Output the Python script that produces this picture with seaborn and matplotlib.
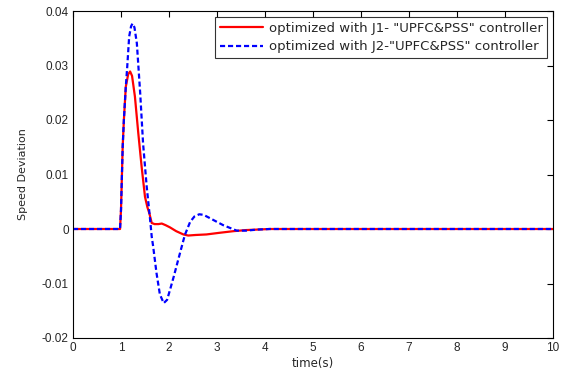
import matplotlib
matplotlib.use("Agg")
import matplotlib.pyplot as plt
import seaborn as sns

t_red = [0, 0.98, 1.0, 1.035, 1.06, 1.10, 1.15, 1.19, 1.23, 1.29, 1.36, 1.43, 1.50, 1.55, 1.59, 1.64, 1.70, 1.78, 1.85, 1.93, 2.02, 2.15, 2.30, 2.40, 2.55, 2.78, 3.05, 3.34, 3.6, 3.85, 4.1, 10]
v_red = [0, 0, 0.0035, 0.0151, 0.020, 0.0261, 0.0284, 0.0289, 0.0281, 0.0243, 0.0176, 0.0114, 0.0059, 0.0040, 0.0029, 0.0011, 0.0009, 0.0009, 0.0010, 0.0007, 0.0003, -0.0004, -0.0010, -0.0012, -0.0011, -0.0010, -0.0007, -0.0004, -0.0002, -0.0001, 0, 0]

t_blue = [0, 0.98, 1.0, 1.035, 1.06, 1.10, 1.13, 1.17, 1.21, 1.24, 1.28, 1.33, 1.40, 1.46, 1.535, 1.60, 1.64, 1.67, 1.74, 1.81, 1.89, 1.96, 2.02, 2.10, 2.19, 2.26, 2.33, 2.44, 2.53, 2.63, 2.72, 2.85, 3.0, 3.13, 3.27, 3.41, 3.6, 3.85, 4.1, 10]
v_blue = [0, 0, 0.0035, 0.0151, 0.020, 0.0261, 0.0298, 0.0353, 0.0372, 0.0377, 0.0370, 0.0341, 0.0249, 0.0157, 0.0078, 0.0023, -0.0014, -0.0032, -0.0081, -0.0120, -0.0136, -0.0130, -0.0112, -0.0087, -0.0057, -0.0034, -0.0011, 0.0013, 0.0023, 0.0027, 0.0026, 0.0020, 0.0013, 0.0007, 0.0002, -0.0003, -0.0003, -0.0001, 0, 0]

label_red = 'optimized with J1- "UPFC&PSS" controller'
label_blue = 'optimized with J2-"UPFC&PSS" controller'

sns.set_style("white")
plt.rcParams['font.family'] = ['Liberation Sans', 'DejaVu Sans']

fig = plt.figure(figsize=(5.65, 3.76), dpi=100)
ax = fig.add_axes([73/565, 1-338/376, 480/565, 327/376])

sns.lineplot(x=t_red, y=v_red, ax=ax, color="red", linewidth=1.6, label=label_red, sort=False)
sns.lineplot(x=t_blue, y=v_blue, ax=ax, color="blue", linewidth=1.6, linestyle="--", label=label_blue, sort=False)
ax.lines[1].set_dashes([2.3, 1.3])

ax.set_xlim(0, 10)
ax.set_ylim(-0.02, 0.04)
ax.set_xticks(range(0, 11))
ax.set_yticks([-0.02, -0.01, 0, 0.01, 0.02, 0.03, 0.04])
ax.set_yticklabels(["-0.02", "-0.01", "0", "0.01", "0.02", "0.03", "0.04"])
ax.tick_params(direction="in", length=4, width=0.8, labelsize=8.5, top=True, right=True, color="black", pad=3)
for s in ax.spines.values():
    s.set_color("black")
    s.set_linewidth(0.8)
ax.set_xlabel("time(s)", fontsize=8.5, labelpad=2, family=["DejaVu Sans"])
ax.set_ylabel("Speed Deviation", fontsize=8, labelpad=10, family=["DejaVu Sans"])

leg = ax.legend(loc="upper right", frameon=True, fancybox=False, edgecolor="black",
                prop={"family": "DejaVu Sans", "size": 9.5},
                borderaxespad=0.45, handlelength=3.3, handletextpad=0.4,
                labelspacing=0.45, borderpad=0.35)
leg.get_frame().set_linewidth(0.8)
for h in leg.get_lines():
    if h.get_linestyle() != "-":
        h.set_dashes([2.3, 1.3])

fig.savefig("out.png", dpi=100)
